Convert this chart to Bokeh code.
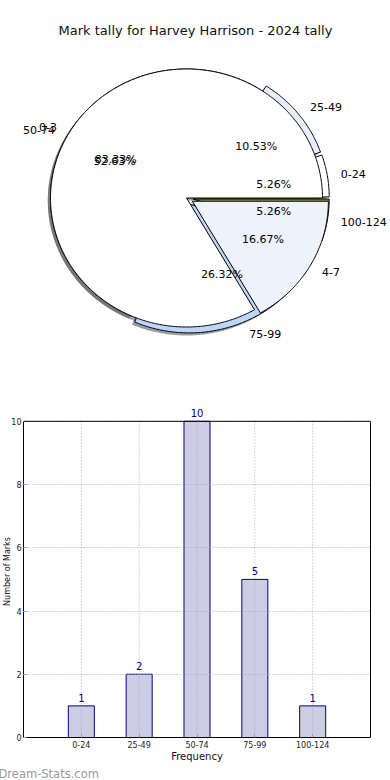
import numpy as np
from bokeh.plotting import figure
from bokeh.models import Range1d, Label, FixedTicker, LinearAxis, Span, Title
from bokeh.embed import file_html
from bokeh.resources import INLINE
from bokeh.core.properties import value

# ---------------- data ----------------
TITLE = "Mark tally for Harvey Harrison - 2024 tally"
bins = ["0-24", "25-49", "50-74", "75-99", "100-124"]
counts = [1, 2, 10, 5, 1]
bin_colors = ["#ffffff", "#e6eefc", "#ffffff", "#bdd6f7", "#8ca03c"]
bin_explode = [0.05, 0.05, 0.0, 0.05, 0.05]

groups = ["0-3", "4-7"]
group_counts = [5, 1]
group_colors = ["#ffffff", "#edf2fd"]
group_explode = [0.0, 0.05]

y_ticks = [0, 2, 4, 6, 8, 10]
X_LABEL = "Frequency"
Y_LABEL = "Number of Marks"
WATERMARK = "Dream-Stats.com"

FONT = "DejaVu Sans"

# ---------------- pie figure ----------------
PW, PH = 390, 390
CX, CY = 186.0, 197.5      # pie centre in canvas px (from top-left)
RX, RY = 136.0, 129.0      # px per unit radius

pie = figure(width=PW, height=PH,
             x_range=Range1d(-CX / RX, (PW - CX) / RX),
             y_range=Range1d(-(PH - CY) / RY, CY / RY),
             output_backend="svg", toolbar_location=None,
             x_axis_location=None, y_axis_location=None,
             min_border=0, outline_line_color=None)
pie.xgrid.visible = False
pie.ygrid.visible = False


def wedges(vals, explode):
    tot = float(sum(vals))
    start = 0.0
    out = []
    for v, e in zip(vals, explode):
        span = 2 * np.pi * v / tot
        mid = start + span / 2
        ox, oy = e * np.cos(mid), e * np.sin(mid)
        th = np.linspace(start, start + span, max(int(span / 0.01), 8))
        xs = np.concatenate([[ox], ox + np.cos(th), [ox]])
        ys = np.concatenate([[oy], oy + np.sin(th), [oy]])
        out.append(dict(xs=xs, ys=ys, mid=mid, e=e, pct=100.0 * v / tot))
        start += span
    return out


def shadow_color(hexc):
    h = hexc.lstrip("#")
    r, g, b = (int(h[i:i + 2], 16) for i in (0, 2, 4))
    return "#%02x%02x%02x" % (int(r * 0.3), int(g * 0.3), int(b * 0.3))


w1 = wedges(counts, bin_explode)
w2 = wedges(group_counts, group_explode)

# shadows (below every wedge)
for ws, cols in ((w1, bin_colors), (w2, group_colors)):
    pie.patches(xs=[w["xs"] - 0.02 for w in ws], ys=[w["ys"] - 0.02 for w in ws],
                fill_color=[shadow_color(c) for c in cols], fill_alpha=0.5,
                line_color=None)

# wedges
for ws, cols in ((w1, bin_colors), (w2, group_colors)):
    pie.patches(xs=[w["xs"] for w in ws], ys=[w["ys"] for w in ws],
                fill_color=cols, line_color="black", line_width=1)

# labels
for ws, names in ((w1, bins), (w2, groups)):
    for w, name in zip(ws, names):
        lx = (w["e"] + 1.1) * np.cos(w["mid"])
        ly = (w["e"] + 1.1) * np.sin(w["mid"])
        pie.text(x=[lx], y=[ly], text=[name],
                 text_align="left" if lx > 0 else "right", text_baseline="middle",
                 text_font=value(FONT), text_font_size="11px", text_color="black")
        px = (w["e"] + 0.6) * np.cos(w["mid"])
        py = (w["e"] + 0.6) * np.sin(w["mid"])
        pie.text(x=[px], y=[py], text=["%.2f%%" % w["pct"]],
                 text_align="center", text_baseline="middle",
                 text_font=value(FONT), text_font_size="11px", text_color="black")

pie.add_layout(Label(x=195, y=PH - 30, x_units="screen", y_units="screen",
                     text=TITLE, text_align="center", text_baseline="middle",
                     text_font=FONT, text_font_size="13px", text_color="#111111"))

# ---------------- bar figure ----------------
BW, BH = 390, 390
BL, BR, BT, BB = 19, 20, 15, 40
Y_MAX = y_ticks[-1]

bar = figure(width=BW, height=BH,
             x_range=Range1d(0, len(bins) + 1), y_range=Range1d(0, Y_MAX * 1.05),
             output_backend="svg", toolbar_location=None,
             min_border_left=BL, min_border_right=BR,
             min_border_top=BT, min_border_bottom=BB)

xpos = list(range(1, len(bins) + 1))
bar.vbar(x=xpos, top=counts, width=0.45,
         fill_color="navy", fill_alpha=0.2, line_color="navy", line_width=1)

# vertical dotted grid lines on top of the bars
bar.segment(x0=xpos, y0=[y_ticks[0]] * len(xpos), x1=xpos, y1=[Y_MAX] * len(xpos),
            line_color="#aaaaaa", line_dash="1 2", line_width=1)

for xv, c in zip(xpos, counts):
    bar.add_layout(Label(x=xv, y=c, text=str(c), y_offset=4,
                         text_align="center", text_baseline="bottom",
                         text_color="navy", text_font=FONT, text_font_size="10px"))

bar.xaxis.ticker = FixedTicker(ticks=xpos)
bar.xaxis.major_label_overrides = {x: b for x, b in zip(xpos, bins)}
bar.yaxis.ticker = FixedTicker(ticks=y_ticks)
bar.yaxis.bounds = (y_ticks[0], Y_MAX)
bar.xaxis.axis_label = X_LABEL
bar.yaxis.axis_label = Y_LABEL

for ax in bar.axis:
    ax.major_tick_out = 0
    ax.major_tick_in = 3
    ax.major_tick_line_color = "#999999"
    ax.minor_tick_line_color = None
    ax.axis_line_color = "black"
    ax.major_label_text_font = FONT
    ax.major_label_text_font_size = "8px"
    ax.major_label_text_color = "#222222"
    ax.axis_label_text_font = FONT
    ax.axis_label_text_font_style = "normal"
    ax.axis_label_text_color = "#111111"
    ax.major_label_standoff = 2
    ax.axis_label_standoff = 0
bar.xaxis.axis_label_text_font_size = "10px"
bar.yaxis.axis_label_text_font_size = "8px"
bar.yaxis.axis_label_standoff = -4
bar.xaxis.major_label_standoff = 3
bar.xaxis.axis_label_standoff = 0

bar.xgrid.visible = False
bar.ygrid.level = "guide"
bar.ygrid.grid_line_color = "#aaaaaa"
bar.ygrid.grid_line_dash = "1 2"
bar.ygrid.grid_line_width = 1
bar.outline_line_color = None

# frame: top edge and right edge at the data limits
bar.add_layout(Span(location=Y_MAX, dimension="width", line_color="black", line_width=1))
right_axis = LinearAxis(bounds=(y_ticks[0], Y_MAX), ticker=FixedTicker(ticks=[]),
                        major_tick_line_color=None, minor_tick_line_color=None,
                        major_label_text_font_size="0px", axis_line_color="black")
bar.add_layout(right_axis, "right")

bar.add_layout(Title(text=WATERMARK, align="left", offset=-25, standoff=0,
                     text_font=FONT, text_font_size="11.5px", text_font_style="normal",
                     text_color="#999999"), "below")

open("out.html", "w").write(file_html([pie, bar], INLINE))
